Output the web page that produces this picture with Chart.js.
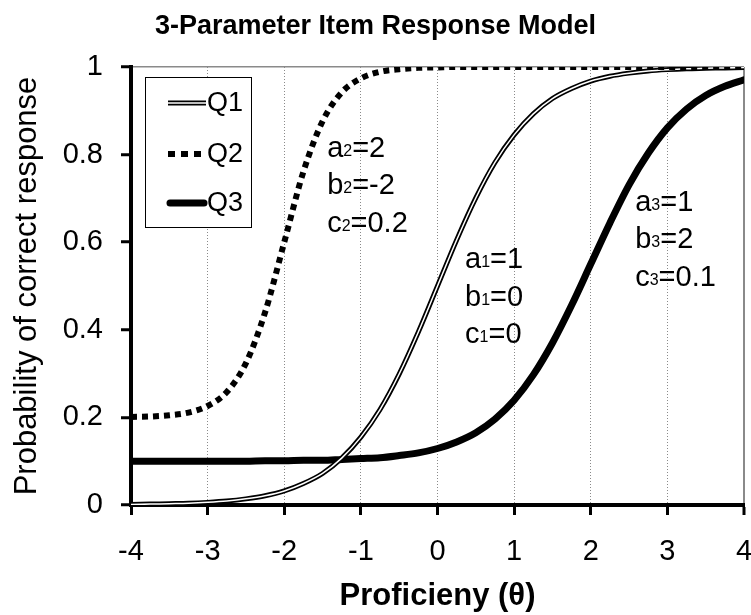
<!DOCTYPE html>
<html>
<head>
<meta charset="utf-8">
<script src="https://cdn.jsdelivr.net/npm/chart.js@4.4.1/dist/chart.umd.min.js"></script>
<style>
  html, body { margin: 0; padding: 0; background: #fff; }
  #wrap { width: 751px; height: 615px; position: relative; }
</style>
</head>
<body>
<div id="wrap"><canvas id="chart"></canvas></div>
<script>
// proficiency values (theta)
const theta = [-4, -3.75, -3.5, -3.25, -3, -2.75, -2.5, -2.25, -2, -1.75, -1.5, -1.25, -1, -0.75, -0.5, -0.25,
  0, 0.25, 0.5, 0.75, 1, 1.25, 1.5, 1.75, 2, 2.25, 2.5, 2.75, 3, 3.25, 3.5, 3.75, 4];

// probability of correct response
const q1 = [0.001, 0.002, 0.003, 0.004, 0.006, 0.009, 0.014, 0.021, 0.032, 0.049, 0.072, 0.107, 0.155, 0.218, 0.299, 0.395,
  0.5, 0.605, 0.701, 0.782, 0.845, 0.893, 0.928, 0.951, 0.968, 0.979, 0.986, 0.991, 0.994, 0.996, 0.997, 0.998, 0.999];
const q2 = [0.201, 0.202, 0.205, 0.211, 0.226, 0.258, 0.324, 0.44, 0.6, 0.761, 0.876, 0.942, 0.974, 0.989, 0.995, 0.998,
  0.999, 1, 1, 1, 1, 1, 1, 1, 1, 1, 1, 1, 1, 1, 1, 1, 1];
const q3 = [0.1, 0.1, 0.1, 0.1, 0.1, 0.1, 0.1, 0.101, 0.101, 0.102, 0.102, 0.104, 0.106, 0.108, 0.113, 0.119,
  0.129, 0.144, 0.165, 0.196, 0.239, 0.297, 0.37, 0.456, 0.55, 0.644, 0.731, 0.803, 0.861, 0.904, 0.935, 0.956, 0.971];

const seriesNames = ["Q1", "Q2", "Q3"];
const xTickLabels = ["-4", "-3", "-2", "-1", "0", "1", "2", "3", "4"];
const yTickLabels = ["0", "0.2", "0.4", "0.6", "0.8", "1"];

// item parameters written next to each curve: [letter, subscript, value]
const params1 = [["a", "1", "1"], ["b", "1", "0"], ["c", "1", "0"]];
const params2 = [["a", "2", "2"], ["b", "2", "-2"], ["c", "2", "0.2"]];
const params3 = [["a", "3", "1"], ["b", "3", "2"], ["c", "3", "0.1"]];

const FONT = "'Liberation Sans', Arial, sans-serif";
const toXY = (ys) => ys.map((y, i) => ({ x: theta[i], y }));

const lineBase = {
  pointRadius: 0,
  pointHoverRadius: 0,
  fill: false,
  cubicInterpolationMode: "monotone",
  borderJoinStyle: "round",
};

// legend drawn inside the plot, with a white box
const boxLegend = {
  id: "boxLegend",
  afterDatasetsDraw(chart) {
    const { ctx } = chart;
    const left = 145, top = 77, w = 106, h = 150;
    ctx.save();
    ctx.fillStyle = "#fff";
    ctx.fillRect(left, top, w, h);
    ctx.strokeStyle = "#000";
    ctx.lineWidth = 1;
    ctx.strokeRect(left + 0.5, top + 0.5, w, h);

    const rows = [103, 154, 203];
    const x1 = 168, x2 = 206;
    // Q1 double line
    ctx.lineCap = "butt";
    ctx.setLineDash([]);
    ctx.strokeStyle = "#000";
    ctx.lineWidth = 5;
    ctx.beginPath(); ctx.moveTo(x1, rows[0]); ctx.lineTo(x2, rows[0]); ctx.stroke();
    ctx.strokeStyle = "#fff";
    ctx.lineWidth = 1.5;
    ctx.beginPath(); ctx.moveTo(x1, rows[0]); ctx.lineTo(x2, rows[0]); ctx.stroke();
    // Q2 dotted
    ctx.strokeStyle = "#000";
    ctx.lineWidth = 6;
    ctx.setLineDash([7, 6]);
    ctx.beginPath(); ctx.moveTo(x1, rows[1]); ctx.lineTo(x2, rows[1]); ctx.stroke();
    // Q3 thick
    ctx.setLineDash([]);
    ctx.lineWidth = 7;
    ctx.lineCap = "round";
    ctx.beginPath(); ctx.moveTo(x1 + 2, rows[2]); ctx.lineTo(x2 - 2, rows[2]); ctx.stroke();

    ctx.fillStyle = "#000";
    ctx.font = "27px " + FONT;
    ctx.textBaseline = "middle";
    ctx.textAlign = "left";
    seriesNames.forEach((name, i) => ctx.fillText(name, x2 + 1, rows[i] + 1));
    ctx.restore();
  },
};

// parameter notes placed in data units
const paramNotes = {
  id: "paramNotes",
  afterDatasetsDraw(chart) {
    const { ctx } = chart;
    const xs = chart.scales.x, ys = chart.scales.y;
    const groups = [
      { rows: params2, x: -1.44, y: 0.795 },
      { rows: params1, x: 0.36, y: 0.541 },
      { rows: params3, x: 2.58, y: 0.672 },
    ];
    ctx.save();
    ctx.fillStyle = "#000";
    ctx.textBaseline = "alphabetic";
    ctx.textAlign = "left";
    groups.forEach((g) => {
      const px = xs.getPixelForValue(g.x);
      const py = ys.getPixelForValue(g.y);
      g.rows.forEach((r, i) => {
        const by = py + i * 37.5;
        let cx = px;
        ctx.font = "29px " + FONT;
        ctx.fillText(r[0], cx, by);
        cx += ctx.measureText(r[0]).width;
        ctx.font = "16px " + FONT;
        ctx.fillText(r[1], cx, by - 1);
        cx += ctx.measureText(r[1]).width;
        ctx.font = "29px " + FONT;
        ctx.fillText("=" + r[2], cx, by);
      });
    });
    ctx.restore();
  },
};

new Chart(document.getElementById("chart"), {
  type: "line",
  data: {
    datasets: [
      {
        ...lineBase,
        label: seriesNames[1],
        data: toXY(q2),
        borderColor: "#000",
        borderWidth: 6,
        borderDash: [6, 5],
        borderCapStyle: "butt",
        order: 0,
      },
      {
        ...lineBase,
        label: seriesNames[0] + " inner",
        data: toXY(q1),
        borderColor: "#fff",
        borderWidth: 1.5,
        order: 1,
      },
      {
        ...lineBase,
        label: seriesNames[0],
        data: toXY(q1),
        borderColor: "#000",
        borderWidth: 5,
        order: 2,
      },
      {
        ...lineBase,
        label: seriesNames[2],
        data: toXY(q3),
        borderColor: "#000",
        borderWidth: 7,
        borderCapStyle: "round",
        order: 3,
      },
    ],
  },
  options: {
    responsive: true,
    maintainAspectRatio: false,
    animation: false,
    layout: { padding: 0 },
    plugins: {
      legend: { display: false },
      tooltip: { enabled: false },
      title: {
        display: true,
        text: "3-Parameter Item Response Model",
        color: "#000",
        font: { family: FONT, size: 27, weight: "bold", lineHeight: 1.2 },
        padding: { top: 10, bottom: 24.6 },
      },
    },
    scales: {
      x: {
        type: "linear",
        min: -4,
        max: 4,
        afterFit: (s) => {
          s.height = 110;
          s.paddingLeft = 0;
          s.paddingRight = 7;
        },
        ticks: {
          stepSize: 1,
          color: "#000",
          padding: 20,
          font: { family: FONT, size: 29, lineHeight: 1.2 },
          callback: (v) => xTickLabels[Math.round(v) + 4],
        },
        grid: {
          color: (c) => (c.type === "tick" && c.tick.value === -4 ? "transparent" : "#8a8a8a"),
          lineWidth: (c) => (c.type === "tick" && c.tick.value === 4 ? 2 : 1),
          tickLength: 10,
          tickWidth: 3,
          tickColor: "#000",
        },
        border: {
          display: true,
          color: "#000",
          width: 4,
          dash: (c) => (c.type === "tick" && c.tick.value !== 4 ? [1, 2] : []),
        },
        title: {
          display: true,
          text: "Proficieny (θ)",
          color: "#000",
          font: { family: FONT, size: 31, weight: "bold", lineHeight: 1.2 },
          padding: { top: 0, bottom: 0 },
        },
      },
      y: {
        min: 0,
        max: 1,
        afterFit: (s) => {
          s.width = 131;
        },
        ticks: {
          stepSize: 0.2,
          color: "#000",
          padding: 18,
          font: { family: FONT, size: 29, lineHeight: 1.2 },
          callback: (v) => yTickLabels[Math.round(v * 5)],
        },
        grid: {
          color: (c) => (c.type === "tick" && c.tick.value === 1 ? "#8a8a8a" : "transparent"),
          lineWidth: 1.5,
          tickLength: 10,
          tickWidth: 3,
          tickColor: "#000",
        },
        border: { display: true, color: "#000", width: 4 },
        title: {
          display: true,
          text: "Probability of correct response",
          color: "#000",
          font: { family: FONT, size: 31, lineHeight: 1.2 },
          padding: { top: 9, bottom: 0 },
        },
      },
    },
  },
  plugins: [paramNotes, boxLegend],
});
</script>
</body>
</html>
